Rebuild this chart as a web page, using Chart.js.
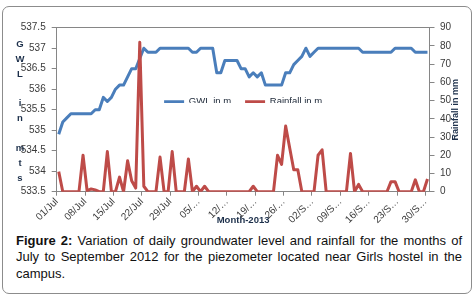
<!DOCTYPE html>
<html>
<head>
<meta charset="utf-8">
<script src="https://cdn.jsdelivr.net/npm/chart.js@4.4.0/dist/chart.umd.min.js"></script>
<style>
  html, body { margin: 0; padding: 0; background: #fff; }
  body { width: 476px; height: 296px; position: relative; overflow: hidden; }
  #frame { position: absolute; left: 2px; top: 6px; width: 470px; height: 288px; box-sizing: border-box;
           border: 1.5px solid #8c8c8c; border-radius: 7px; }
  #chart { position: absolute; left: 0; top: 0; }
  #caption { position: absolute; left: 16px; top: 233px; width: 446px; color: #111;
             font: 13px/16.4px "Liberation Sans", Arial, sans-serif; text-align: justify; }
</style>
</head>
<body>
<div id="frame"></div>
<canvas id="chart" width="476" height="232"></canvas>
<div id="caption"><b>Figure 2:</b> Variation of daily groundwater level and rainfall for the months of July to September 2012 for the piezometer located near Girls hostel in the campus.</div>
<script>
// daily values, 01/Jul .. 30/Sep
const gwl = [
    534.9, 535.2, 535.3, 535.4, 535.4, 535.4, 535.4, 535.4, 535.4, 535.5,
    535.5, 535.8, 535.7, 535.8, 536.0, 536.1, 536.1, 536.3, 536.5, 536.5,
    536.75, 537.0, 536.9, 536.9, 536.9, 537.0, 537.0, 537.0, 537.0, 537.0,
    537.0, 537.0, 537.0, 536.9, 536.9, 537.0, 537.0, 537.0, 537.0, 536.4,
    536.4, 536.7, 536.7, 536.7, 536.7, 536.5, 536.5, 536.3, 536.4, 536.3,
    536.4, 536.1, 536.1, 536.1, 536.1, 536.1, 536.4, 536.4, 536.6, 536.7,
    536.8, 537.0, 536.8, 536.9, 537.0, 537.0, 537.0, 537.0, 537.0, 537.0,
    537.0, 537.0, 537.0, 537.0, 537.0, 536.9, 536.9, 536.9, 536.9, 536.9,
    536.9, 536.9, 536.9, 537.0, 537.0, 537.0, 537.0, 537.0, 536.9, 536.9,
    536.9, 536.9
];
const rainfall = [
    11, 0, 0, 0, 0, 0, 20, 0.5, 1.5, 1,
    0, 0, 22, 0, 0, 8, 0, 17, 6, 2,
    82, 3, 0, 0, 0, 19, 0, 0, 22, 0,
    0, 0, 18, 0, 3, 0, 3, 0, 0, 0,
    0, 0, 0, 0, 0, 0, 0, 0, 3, 0,
    0, 0, 0, 0, 20, 15, 36, 24, 12, 12,
    0, 0, 0, 0, 20, 23, 0, 0, 0, 0,
    0, 0, 21, 0, 4, 0, 0, 0, 0, 0,
    0, 0, 5.5, 5.5, 0, 0, 0, 0, 6.5, 0,
    0, 7
];
const xTickLabels = ["01/Jul", "08/Jul", "15/Jul", "22/Jul", "29/Jul", "05/…", "12/…",
    "19/…", "26/…", "02/S…", "09/S…", "16/S…", "23/S…", "30/S…"];
const months = ["Jul", "Aug", "Sep"];
const monthDays = [31, 31, 30];

const gwlTitle = "GWL in mts";
const rainTitle = "Rainfall in mm";
const xTitle = "Month-2013";

const days = [];
months.forEach((m, k) => {
    for (let d = 1; d <= monthDays[k]; d++) {
        days.push(String(d).padStart(2, "0") + "/" + m);
    }
});

const axisGray = "#868686";
const tickColor = "#3a3a3a";
const titleColor = "#1c2f4a";
const fam = "'Liberation Sans', Arial, sans-serif";
Chart.defaults.font.family = fam;

const legendY = 101.7;
const legendPad = 14;
const legendSize = 9.5;

// legend sits inside the plot, and the two y titles are drawn by hand
const placeLegend = {
    id: "placeLegend",
    afterLayout(chart) {
        const lg = chart.legend;
        const a = chart.chartArea;
        lg.left = a.left;
        lg.right = a.right;
        lg.width = a.right - a.left;
        lg.top = legendY - legendPad - legendSize / 2;
        lg.height = 20;
        lg.bottom = lg.top + 20;
    }
};

const axisTitles = {
    id: "axisTitles",
    afterDraw(chart) {
        const ctx = chart.ctx;
        const a = chart.chartArea;
        const mid = (a.top + a.bottom) / 2;
        ctx.save();
        ctx.fillStyle = titleColor;
        ctx.textAlign = "center";
        ctx.textBaseline = "middle";
        ctx.font = "bold 9.5px " + fam;
        const step = 14.9;
        const y0 = mid + 1.5 - step * (gwlTitle.length - 1) / 2;
        gwlTitle.split("").forEach((ch, i) => {
            if (ch !== " ") ctx.fillText(ch, 20, y0 + i * step);
        });
        ctx.font = "bold 9px " + fam;
        ctx.translate(456, mid);
        ctx.rotate(-Math.PI / 2);
        ctx.fillText(rainTitle, 0, 0);
        ctx.restore();
    }
};

new Chart(document.getElementById("chart"), {
    type: "line",
    data: {
        labels: days,
        datasets: [
            {
                label: "GWL in m",
                data: gwl,
                yAxisID: "y",
                borderColor: "#4A7EBB",
                backgroundColor: "#4A7EBB",
                borderWidth: 3,
                borderJoinStyle: "round",
                pointRadius: 0,
                tension: 0,
                order: 1
            },
            {
                label: "Rainfall in m",
                data: rainfall,
                yAxisID: "y1",
                borderColor: "#BE4B48",
                backgroundColor: "#BE4B48",
                borderWidth: 3,
                borderJoinStyle: "round",
                pointRadius: 0,
                tension: 0,
                order: 0
            }
        ]
    },
    options: {
        responsive: false,
        animation: false,
        devicePixelRatio: 1,
        layout: { padding: { left: 0, right: 0, top: 27.7, bottom: 0 } },
        plugins: {
            tooltip: { enabled: false },
            legend: {
                position: "top",
                maxHeight: 0.01,
                labels: {
                    usePointStyle: true,
                    pointStyle: "line",
                    pointStyleWidth: 20,
                    padding: legendPad,
                    color: "#1a2535",
                    font: { size: legendSize },
                    sort: (a, b) => a.datasetIndex - b.datasetIndex
                }
            }
        },
        scales: {
            x: {
                offset: true,
                grid: {
                    offset: true,
                    drawOnChartArea: false,
                    tickLength: 4,
                    tickColor: c => (c.index % 7 === 0 ? axisGray : "transparent")
                },
                border: { display: true, color: axisGray, width: 1 },
                ticks: {
                    autoSkip: false,
                    minRotation: 45,
                    maxRotation: 45,
                    padding: 0,
                    labelOffset: -2,
                    color: tickColor,
                    font: { size: 10 },
                    callback: (v, i) => (i % 7 === 0 ? xTickLabels[i / 7] : "")
                },
                title: {
                    display: true,
                    text: xTitle,
                    color: titleColor,
                    font: { size: 9.5, weight: "bold" },
                    padding: { top: 0, bottom: 6 }
                },
                afterFit: s => { s.height = 40.3; }
            },
            y: {
                position: "left",
                min: 533.5,
                max: 537.5,
                grid: {
                    tickLength: 5,
                    tickColor: axisGray,
                    color: c => (c.tick && c.tick.value === 537.5 ? axisGray : "transparent")
                },
                border: { display: true, color: axisGray, width: 1 },
                ticks: {
                    stepSize: 0.5,
                    padding: 6,
                    color: tickColor,
                    font: { size: 10 },
                    callback: v => String(Number(v.toFixed(1)))
                },
                afterFit: s => { s.width = 56.7; }
            },
            y1: {
                position: "right",
                min: 0,
                max: 90,
                grid: { drawOnChartArea: false, tickLength: 5, tickColor: axisGray },
                border: { display: true, color: axisGray, width: 1 },
                ticks: { stepSize: 10, padding: 5.5, color: tickColor, font: { size: 10 } },
                afterFit: s => { s.width = 46.5; }
            }
        }
    },
    plugins: [placeLegend, axisTitles]
});
</script>
</body>
</html>
